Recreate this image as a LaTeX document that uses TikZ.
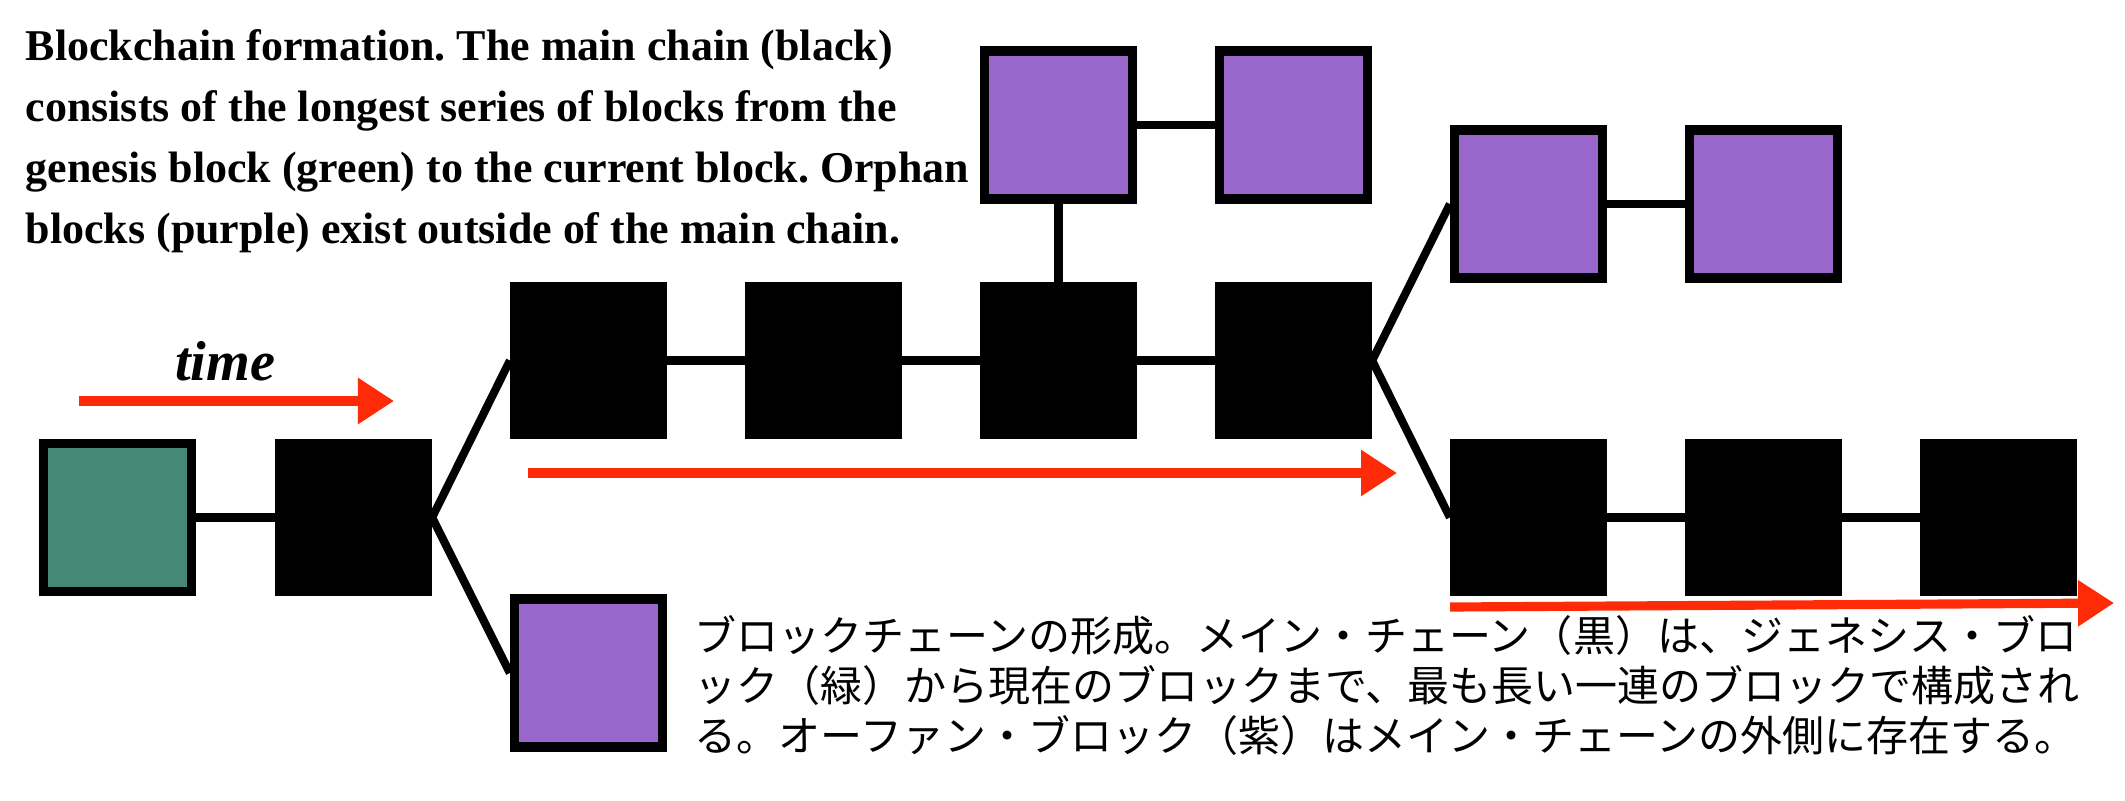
\documentclass[tikz,border=0pt]{standalone}
\usepackage{fontspec}
\setmainfont{Liberation Serif}
\newfontfamily\jpfont{Noto Sans CJK JP}
\usetikzlibrary{arrows.meta}

\definecolor{genesis}{RGB}{69,136,118}
\definecolor{orphan}{RGB}{153,102,204}
\definecolor{timered}{RGB}{255,42,8}

\tikzset{
    block/.style={draw=black, line width=2.6pt, minimum size=1.48cm, inner sep=0pt},
    mainblock/.style={block, fill=black},
    orphanblock/.style={block, fill=orphan},
    genesisblock/.style={block, fill=genesis},
    link/.style={line width=2.3pt},
    timearrow/.style={draw=timered, line width=2.6pt, -{Triangle[length=0.36cm, width=0.44cm]}}
}

\begin{document}
\begin{tikzpicture}[x=0.01cm, y=-0.01cm]
            \useasboundingbox (0, 0) rectangle (2125, 800);
            % genesis block and first block
            \node[genesisblock] (g) at (117.5, 517.5) {};
            \node[mainblock] (m0) at (353.5, 517.5) {};
            \node[orphanblock] (p0) at (588.5, 673) {};
            \draw[link] (g) -- (m0);
            \draw[link] (m0.east) -- (p0.west);
            % main chain
            \foreach \i in {1, ..., 4} {
                \node[mainblock] (m\i) at ({353.5+235*\i}, 360.5) {};
            }
            \draw[link] (m0.east) -- (m1.west);
            \foreach \i in {1, ..., 3} {
                \pgfmathtruncatemacro{\j}{\i + 1}
                \draw[link] (m\i) -- (m\j);
            }
            % orphans
            \foreach \i in {1, 2} {
                \node[orphanblock] (o\i) at ({823.5+235*\i}, 125) {};
                \node[orphanblock] (r\i) at ({1293.5+235*\i}, 204) {};
            }
            \draw[link] (m3) -- (o1);
            \draw[link] (o1) -- (o2);
            \draw[link] (m4.east) -- (r1.west);
            \draw[link] (r1) -- (r2);
            % current branch
            \foreach \i in {1, ..., 3} {
                \node[mainblock] (n\i) at ({1293.5+235*\i}, 517.5) {};
            }
            \draw[link] (m4.east) -- (n1.west);
            \draw[link] (n1) -- (n2);
            \draw[link] (n2) -- (n3);
            % time arrows
            \coordinate (t0) at (79, 401);
            \coordinate (t1) at (394, 401);
            \coordinate (u0) at (528, 473);
            \coordinate (u1) at (1397, 473);
            \coordinate (w0) at (1450, 607);
            \coordinate (w1) at (2114, 603);
            \draw[timearrow] (t0) -- (t1);
            \draw[timearrow] (u0) -- (u1);
            \draw[timearrow] (w0) -- (w1);
            \node[anchor=base, font=\fontsize{16}{19}\selectfont\bfseries\itshape] (time) at (225, 380) {time};
            % captions
            \node[anchor=north west, align=left, inner sep=0pt, font=\fontsize{12.5}{17.35}\selectfont\bfseries\frenchspacing] (en) at (25, 29) {Blockchain formation. The main chain (black)\\consists of the longest series of blocks from the\\genesis block (green) to the current block. Orphan\\blocks (purple) exist outside of the main chain.};
            \node[anchor=north west, align=left, inner sep=0pt, font=\jpfont\fontsize{11.95}{14.2}\selectfont] (ja) at (694, 615) {ブロックチェーンの形成。メイン・チェーン（黒）は、ジェネシス・ブロ\\ック（緑）から現在のブロックまで、最も長い一連のブロックで構成され\\る。オーファン・ブロック（紫）はメイン・チェーンの外側に存在する。};
        \end{tikzpicture}
\end{document}
